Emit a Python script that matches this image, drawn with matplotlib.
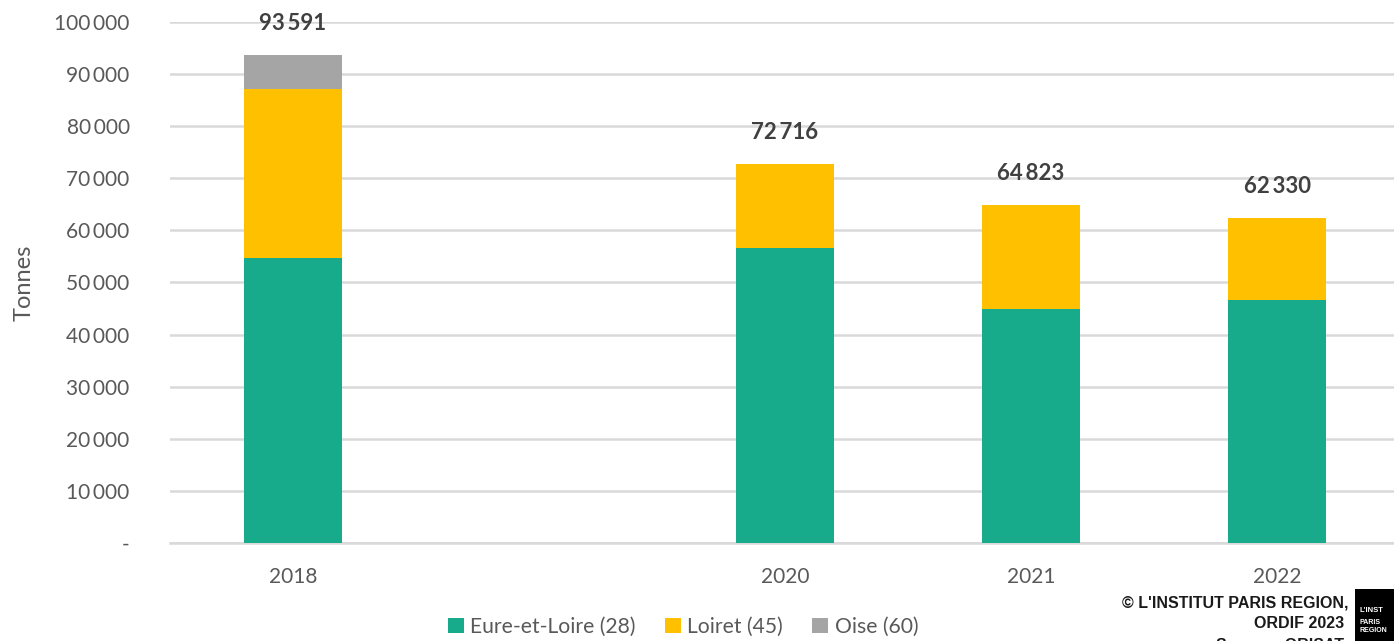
import matplotlib.pyplot as plt
import matplotlib.ticker as mticker
from matplotlib.patches import Rectangle
import numpy as np

years = ['2018', '', '2020', '2021', '2022']
totals = [93591, 0, 72716, 64823, 62330]
eure = [54700, 0, 56600, 44900, 46700]
oise = [6491, 0, 0, 0, 0]
loiret = [t - e - o for t, e, o in zip(totals, eure, oise)]

GREEN = '#17AB8C'
YELLOW = '#FFC000'
GREY = '#A5A5A5'
TXT = '#595959'

plt.rcParams['font.family'] = ['Lato', 'DejaVu Sans']

fig = plt.figure(figsize=(13.94, 6.41), dpi=100)
ax = fig.add_axes([170 / 1394, 98 / 641, 1230 / 1394, 521 / 641])

x = np.arange(len(years))
w = 0.40
ax.bar(x, eure, w, color=GREEN, label='Eure-et-Loire (28)', zorder=3)
ax.bar(x, loiret, w, bottom=eure, color=YELLOW, label='Loiret (45)', zorder=3)
ax.bar(x, oise, w, bottom=np.add(eure, loiret), color=GREY, label='Oise (60)', zorder=3)

for i, t in enumerate(totals):
    if t:
        ax.annotate(f'{t:,}'.replace(',', '\u2009'), (x[i], t), xytext=(0, 23), textcoords='offset points',
                    ha='center', va='center', fontsize=16, fontweight='bold', color='#404040')

ax.set_xlim(-0.5, 4.5)
ax.set_ylim(0, 100000)
ax.set_xticks(x)
ax.set_xticklabels(years)
ax.yaxis.set_major_locator(mticker.MultipleLocator(10000))
ax.yaxis.set_major_formatter(mticker.FuncFormatter(
    lambda v, p: '-' if v == 0 else f'{int(v):,}'.replace(',', '\u2009')))
ax.tick_params(axis='both', length=0, labelsize=15, labelcolor=TXT)
ax.tick_params(axis='y', pad=29)
ax.tick_params(axis='x', pad=17)
ax.grid(axis='y', color='#D9D9D9', linewidth=1.8, zorder=0)
for s in ['top', 'right', 'left']:
    ax.spines[s].set_visible(False)
ax.spines['bottom'].set_color('#D9D9D9')
ax.spines['bottom'].set_linewidth(1.8)

fig.text(24 / 1394, 1 - 283 / 641, 'Tonnes', rotation=90, ha='center', va='center',
         fontsize=17, color=TXT)

fig.legend(loc='center', bbox_to_anchor=(683 / 1394, 1 - 627 / 641), ncol=3, frameon=False,
           fontsize=15.2, labelcolor=TXT, handlelength=0.75, handleheight=0.75,
           handletextpad=0.3, columnspacing=1.4)

bold = dict(fontsize=11.5, fontweight='bold', family=['Liberation Sans', 'DejaVu Sans'], color='#1a1a1a')
fig.text(1348 / 1394, 1 - 603 / 641, '\u00a9 L\'INSTITUT PARIS REGION,', ha='right', va='center', **bold)
fig.text(1344 / 1394, 1 - 623 / 641, 'ORDIF 2023', ha='right', va='center', **bold)
fig.text(1344 / 1394, 1 - 645 / 641, 'Source : ORISAT', ha='right', va='center', **bold)

fig.patches.append(Rectangle((1355 / 1394, 0), 50 / 1394, 52 / 641, transform=fig.transFigure,
                             facecolor='black', edgecolor='none'))
logo = dict(ha='left', va='center', fontweight='bold', color='white',
            family=['Liberation Sans', 'DejaVu Sans'])
fig.text(1360 / 1394, 1 - 610 / 641, "L'INST", fontsize=5.5, **logo)
fig.text(1360 / 1394, 1 - 622 / 641, 'PARIS', fontsize=5, **logo)
fig.text(1360 / 1394, 1 - 631 / 641, 'REGION', fontsize=5, **logo)

fig.savefig('out.png', dpi=100)
